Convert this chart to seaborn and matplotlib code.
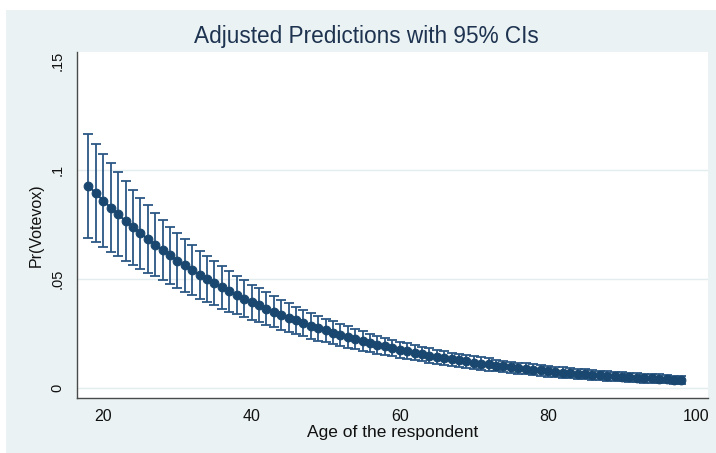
import numpy as np
import pandas as pd
import matplotlib
matplotlib.use("Agg")
import matplotlib.pyplot as plt
from matplotlib.patches import Rectangle
import seaborn as sns

# ------------------ Data ------------------
ages = list(range(18, 99))

pr_votevox = [
    0.0928, 0.0894, 0.0860, 0.0828, 0.0797, 0.0767, 0.0739, 0.0711, 0.0684, 0.0658,
    0.0633, 0.0609, 0.0585, 0.0563, 0.0541, 0.0520, 0.0500, 0.0481, 0.0462, 0.0444,
    0.0427, 0.0410, 0.0394, 0.0379, 0.0365, 0.0350, 0.0336, 0.0323, 0.0310, 0.0298,
    0.0286, 0.0275, 0.0264, 0.0253, 0.0243, 0.0234, 0.0224, 0.0216, 0.0207, 0.0199,
    0.0191, 0.0183, 0.0176, 0.0169, 0.0162, 0.0156, 0.0149, 0.0143, 0.0138, 0.0132,
    0.0127, 0.0122, 0.0117, 0.0112, 0.0108, 0.0103, 0.0099, 0.0095, 0.0091, 0.0088,
    0.0084, 0.0081, 0.0077, 0.0074, 0.0071, 0.0068, 0.0066, 0.0063, 0.0060, 0.0058,
    0.0056, 0.0053, 0.0051, 0.0049, 0.0047, 0.0045, 0.0044, 0.0042, 0.0040, 0.0038,
    0.0037,
]

# half width of the 95% CI
ci_half = [
    0.0237, 0.0225, 0.0213, 0.0203, 0.0193, 0.0182, 0.0172, 0.0163, 0.0155, 0.0146,
    0.0139, 0.0132, 0.0126, 0.0120, 0.0115, 0.0110, 0.0106, 0.0102, 0.0097, 0.0093,
    0.0089, 0.0085, 0.0081, 0.0078, 0.0075, 0.0072, 0.0069, 0.0066, 0.0064, 0.0061,
    0.0059, 0.0057, 0.0055, 0.0053, 0.0051, 0.0049, 0.0047, 0.0045, 0.0043, 0.0041,
    0.0040, 0.0038, 0.0037, 0.0036, 0.0035, 0.0034, 0.0033, 0.0032, 0.0031, 0.0030,
    0.0030, 0.0029, 0.0029, 0.0028, 0.0028, 0.0027, 0.0027, 0.0026, 0.0026, 0.0026,
    0.0025, 0.0025, 0.0025, 0.0024, 0.0024, 0.0024, 0.0023, 0.0023, 0.0023, 0.0022,
    0.0022, 0.0022, 0.0021, 0.0021, 0.0021, 0.0020, 0.0020, 0.0020, 0.0019, 0.0019,
    0.0019,
]

x_ticks = [20, 40, 60, 80, 100]
y_ticks = [0, 0.05, 0.10, 0.15]
y_tick_labels = ["0", ".05", ".1", ".15"]

df = pd.DataFrame({"age": ages, "pr": pr_votevox, "half": ci_half})

# ------------------ Style ------------------
sns.set_style("white")
plt.rcParams["font.family"] = ["Liberation Sans", "DejaVu Sans"]

navy = "#1a476f"
ci_col = "#2b5783"
panel_bg = "#eaf2f3"

fig = plt.figure(figsize=(7.16, 4.53), dpi=100)
fig.patch.set_facecolor("white")
fig.add_artist(Rectangle((6 / 716, 0), 1 - 6 / 716, 1 - 10 / 453,
                         transform=fig.transFigure, facecolor=panel_bg,
                         edgecolor="none", zorder=-5))

ax = fig.add_axes([77 / 716, 55 / 453, 631 / 716, 346 / 453])
ax.set_facecolor("white")

# CI caps
ax.errorbar(df["age"], df["pr"], yerr=df["half"], fmt="none", ecolor=ci_col,
            elinewidth=1.3, capsize=3.4, capthick=1.3, zorder=2)
# point estimates
sns.lineplot(data=df, x="age", y="pr", ax=ax, color=navy, linewidth=1.5,
             marker="o", markersize=6.3, markeredgecolor=navy, zorder=3)

ax.set_xlim(16.45, 101.6)
ax.set_ylim(-0.0046, 0.1543)
ax.set_xticks(x_ticks)
ax.set_yticks(y_ticks)
ax.set_yticklabels(y_tick_labels, rotation=90, va="center")

ax.yaxis.grid(True, color="#e3ecee", linewidth=1.0)
ax.set_axisbelow(True)
ax.yaxis.get_gridlines()[-1].set_visible(False)

for side in ["top", "right"]:
    ax.spines[side].set_visible(False)
for side in ["left", "bottom"]:
    ax.spines[side].set_color("#4a4a4a")
    ax.spines[side].set_linewidth(1.0)

ax.tick_params(axis="both", which="major", length=5, width=0.9, color="#4a4a4a",
               labelcolor="#111111", direction="out")
ax.tick_params(axis="x", pad=3, labelsize=11.5)
ax.tick_params(axis="y", pad=4, labelsize=10.5)

ax.set_xlabel("Age of the respondent", fontsize=12.5, color="#111111", labelpad=1)
ax.set_ylabel("Pr(Votevox)", fontsize=11.5, color="#111111", labelpad=5)

fig.text(366 / 716, 1 - 37 / 453, "Adjusted Predictions with 95% CIs",
         ha="center", va="center", fontsize=16.3, color="#1e3350")

fig.savefig("out.png", dpi=100, facecolor=fig.get_facecolor())
